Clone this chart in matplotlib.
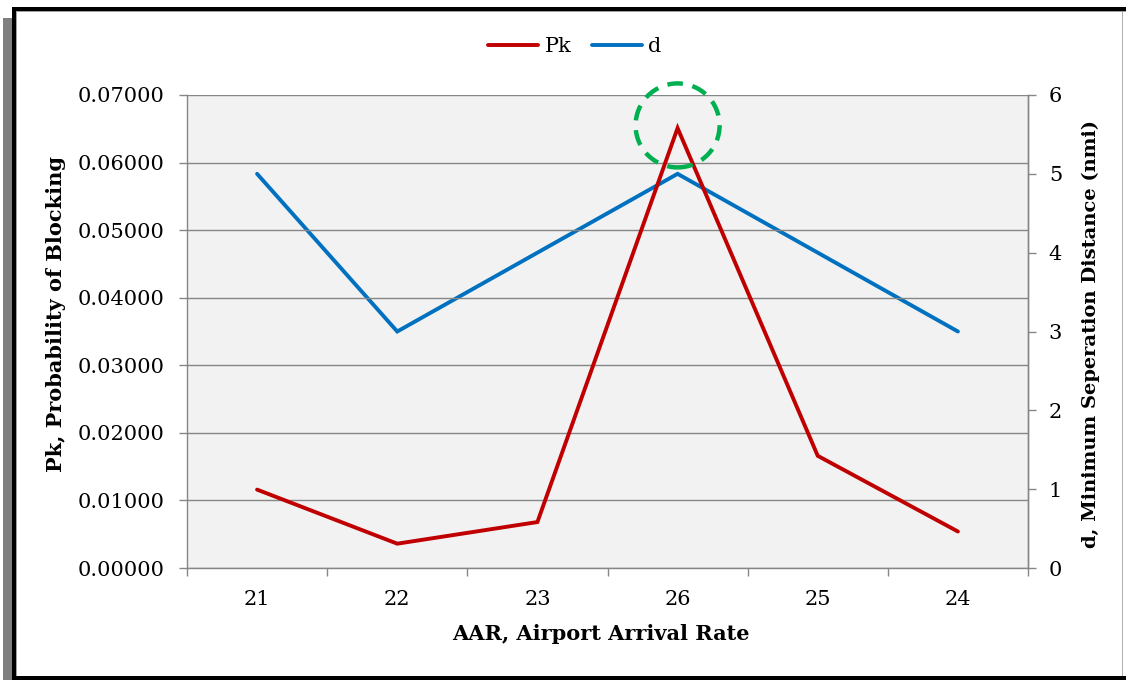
import matplotlib
matplotlib.use("Agg")
import matplotlib.pyplot as plt
from matplotlib.patches import Rectangle, Ellipse
from matplotlib.lines import Line2D
from matplotlib.ticker import FormatStrFormatter, FixedLocator, NullFormatter

# ---- data ----
categories = ["21", "22", "23", "26", "25", "24"]
pk_values = [0.0116, 0.0036, 0.0068, 0.0651, 0.0166, 0.0054]
d_values = [5, 3, 4, 5, 4, 3]
highlight_index = 3
highlight_level = 0.0655

W, H = 1126, 680
DPI = 100
plt.rcParams['font.family'] = ['DejaVu Serif']
FS = 15

fig = plt.figure(figsize=(W / DPI, H / DPI), dpi=DPI)
fig.patch.set_facecolor('white')

def fx(px):
    return px / W

def fy(py):
    return 1 - py / H

def frame_rect(x0, y0, x1, y1, color):
    fig.add_artist(Rectangle((fx(x0), fy(y1)), fx(x1) - fx(x0), fy(y0) - fy(y1),
                             transform=fig.transFigure, facecolor=color,
                             edgecolor='none', zorder=-10))

# frame: shadow, black border, thin grey lines
frame_rect(3, 18, 12, 680, '#7f7f7f')
frame_rect(12, 7, 1130, 680, 'black')
frame_rect(16, 11, 1130, 676, '#a0a0a0')
frame_rect(17, 12, 1130, 676, 'white')
frame_rect(1122, 12, 1123, 676, '#b0b0b0')

L, R, T, B = 187, 1028, 95, 568
pos = [fx(L), fy(B), fx(R) - fx(L), fy(T) - fy(B)]

# plot-area background behind both axes
bg = fig.add_axes(pos, zorder=0)
bg.set_facecolor('#f2f2f2')
bg.set_xticks([]); bg.set_yticks([])
for s in bg.spines.values():
    s.set_visible(False)

ax = fig.add_axes(pos, zorder=2)
ax.patch.set_visible(False)

x = list(range(len(categories)))
grid_c = '#868686'

ax.set_xlim(-0.5, len(categories) - 0.5)
ax.set_ylim(0, 0.07)
ax.set_yticks([i * 0.01 for i in range(8)])
ax.yaxis.set_major_formatter(FormatStrFormatter('%.5f'))
ax.grid(axis='y', color=grid_c, linewidth=1.0)
ax.set_axisbelow(True)

ax.xaxis.set_major_locator(FixedLocator([i - 0.5 for i in range(len(categories) + 1)]))
ax.xaxis.set_major_formatter(NullFormatter())
ax.xaxis.set_minor_locator(FixedLocator(x))
ax.set_xticklabels(categories, minor=True)
ax.tick_params(axis='x', which='minor', length=0, pad=16, labelsize=FS)
ax.tick_params(axis='x', which='major', length=6, color=grid_c, width=1)
ax.tick_params(axis='y', length=6, color=grid_c, width=1, pad=10, labelsize=FS)

ax.spines['top'].set_visible(False)
for s in ['left', 'bottom', 'right']:
    ax.spines[s].set_color(grid_c)
    ax.spines[s].set_linewidth(1.0)

ax2 = ax.twinx()
ax2.set_zorder(1)
ax2.patch.set_visible(False)
ax2.set_ylim(0, 6)
ax2.set_yticks(range(7))
ax2.tick_params(axis='y', length=6, color=grid_c, width=1, pad=9, labelsize=FS)
for s in ['top', 'left', 'bottom']:
    ax2.spines[s].set_visible(False)
ax2.spines['right'].set_color(grid_c)
ax2.spines['right'].set_linewidth(1.0)

red = '#c00000'
blue = '#0070c0'
LW = 2.8
ax2.plot(x, d_values, color=blue, linewidth=LW, solid_capstyle='round', solid_joinstyle='miter')
ax.plot(x, pk_values, color=red, linewidth=LW, solid_capstyle='round', solid_joinstyle='miter', zorder=5)

# highlight circle around peak
cat_px = (R - L) / len(categories)
unit_px = (B - T) / 0.07
rad = 42
ell = Ellipse((highlight_index, highlight_level), 2 * rad / cat_px, 2 * rad / unit_px,
              facecolor='none', edgecolor='#00b050', linewidth=3.2,
              linestyle=(0, (3.5, 2.2)), clip_on=False, zorder=10)
ax.add_patch(ell)

# labels
ax.set_ylabel('Pk, Probability of Blocking', fontsize=FS, fontweight='bold', va='center')
ax.yaxis.set_label_coords((56 - L) / (R - L), (B - 314) / (B - T))
ax2.set_ylabel('d, Minimum Seperation Distance (nmi)', fontsize=14, fontweight='bold',
               rotation=90, va='center')
ax2.yaxis.set_label_coords((1091 - L) / (R - L), (B - 334) / (B - T))
ax.set_xlabel('AAR, Airport Arrival Rate', fontsize=FS, fontweight='bold', va='center')
ax.xaxis.set_label_coords((601 - L) / (R - L), (B - 634) / (B - T))

handles = [Line2D([], [], color=red, linewidth=LW, solid_capstyle='round'),
           Line2D([], [], color=blue, linewidth=LW, solid_capstyle='round')]
fig.legend(handles, ['Pk', 'd'], loc='center', bbox_to_anchor=(fx(575), fy(47)),
           ncol=2, frameon=False, fontsize=FS, handlelength=2.4, handletextpad=0.3,
           columnspacing=1.0)

fig.savefig('out.png', dpi=DPI)
